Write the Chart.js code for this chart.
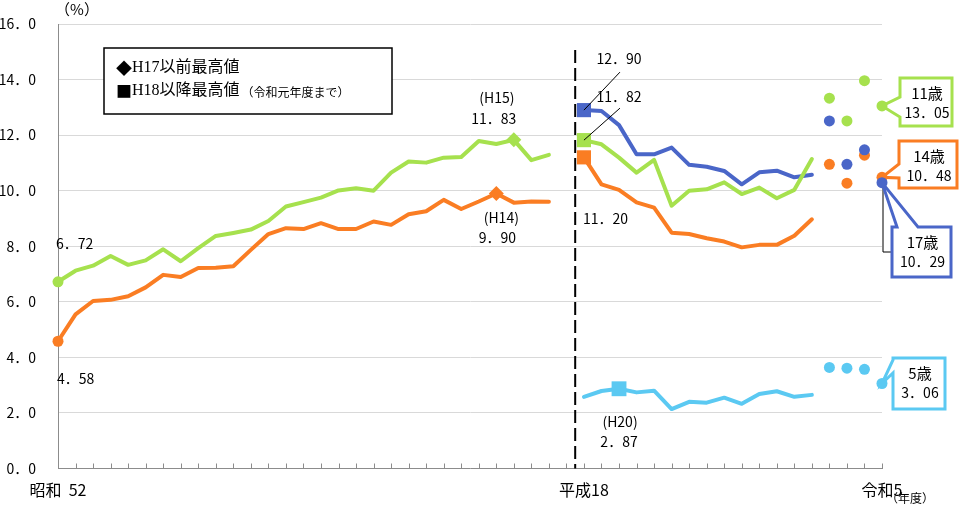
<!DOCTYPE html>
<html lang="ja">
<head>
<meta charset="utf-8">
<title>肥満傾向児の出現率の推移</title>
<script src="https://cdn.jsdelivr.net/npm/chart.js@4.4.1/dist/chart.umd.min.js"></script>
<style>
  html, body { margin: 0; padding: 0; background: #fff; }
  #box { width: 960px; height: 506px; }
</style>
</head>
<body>
<div id="box"><canvas id="grafico" width="960" height="506"></canvas></div>
<script>
// categorie (anni scolastici), lo spazio vuoto e' il salto tra H17 e H18
const categorie = ['S52','S53','S54','S55','S56','S57','S58','S59','S60','S61','S62','S63',
  'H1','H2','H3','H4','H5','H6','H7','H8','H9','H10','H11','H12','H13','H14','H15','H16','H17',
  '',
  'H18','H19','H20','H21','H22','H23','H24','H25','H26','H27','H28','H29','H30',
  'R1','R2','R3','R4','R5'];

// etichette mostrate sotto l'asse x
const etichetteAsse = { 'S52': '昭和  52', 'H18': '平成18', 'R5': '令和5' };

// 11歳 e 14歳, S52 - H17
const eta11Prima = [6.72, 7.12, 7.30, 7.65, 7.33, 7.49, 7.89, 7.46, 7.93, 8.37, 8.48, 8.60, 8.91, 9.43, 9.59,
  9.75, 10.01, 10.09, 10.00, 10.65, 11.05, 11.01, 11.19, 11.21, 11.79, 11.68, 11.83, 11.10, 11.29];
const eta14Prima = [4.58, 5.55, 6.03, 6.07, 6.20, 6.52, 6.97, 6.89, 7.22, 7.23, 7.28, 7.87, 8.44, 8.65, 8.62,
  8.83, 8.62, 8.62, 8.89, 8.77, 9.15, 9.26, 9.67, 9.34, 9.61, 9.90, 9.57, 9.61, 9.60];

// H18 - R1
const eta11Dopo = [11.82, 11.67, 11.19, 10.65, 11.11, 9.46, 10.00, 10.05, 10.30, 9.88, 10.11, 9.73, 10.03, 11.14];
const eta14Dopo = [11.20, 10.23, 10.03, 9.58, 9.39, 8.49, 8.44, 8.29, 8.17, 7.96, 8.05, 8.05, 8.38, 8.97];
const eta17Dopo = [12.90, 12.87, 12.36, 11.31, 11.31, 11.55, 10.93, 10.86, 10.71, 10.23, 10.66, 10.72, 10.48, 10.57];
const eta5Dopo  = [2.58, 2.79, 2.87, 2.74, 2.80, 2.14, 2.40, 2.37, 2.55, 2.33, 2.68, 2.78, 2.58, 2.65];

// R2 - R5 (solo punti)
const eta11Recenti = [13.33, 12.51, 13.96, 13.05];
const eta14Recenti = [10.95, 10.27, 11.28, 10.48];
const eta17Recenti = [12.51, 10.95, 11.47, 10.29];
const eta5Recenti  = [3.64, 3.61, 3.57, 3.06];

const colori = { eta11: '#A6E14E', eta14: '#FA7D23', eta17: '#4A66C8', eta5: '#5BC9F2' };
const FONT = '"Noto Sans CJK JP", sans-serif';
const SERIF = '"Liberation Serif", "Noto Sans CJK JP", serif';

// marcatori speciali: [categoria, stile, raggio]
const marcatori = {
  eta11: [['S52', 'circle', 5.5], ['H15', 'rectRot', 7.5], ['H18', 'rect', 10]],
  eta14: [['S52', 'circle', 5.5], ['H14', 'rectRot', 7.5], ['H18', 'rect', 10]],
  eta17: [['H18', 'rect', 10]],
  eta5:  [['H20', 'rect', 10.5]]
};

const iSalto = categorie.indexOf('');
const iR2 = categorie.indexOf('R2');

function fmt(v) { return v.toFixed(2).replace('.', '．'); }

function serieLinea(prima, dopo) {
  const p = prima || Array(iSalto).fill(null);
  return [...p, null, ...dopo, ...Array(categorie.length - iR2).fill(null)];
}

function serieRecenti(recenti) {
  return [...Array(iR2).fill(null), ...recenti];
}

function datasetLinea(chiave, prima, dopo) {
  const raggi = categorie.map(() => 0);
  const stili = categorie.map(() => 'circle');
  marcatori[chiave].forEach(([cat, stile, r]) => {
    const i = categorie.indexOf(cat);
    raggi[i] = r;
    stili[i] = stile;
  });
  return {
    data: serieLinea(prima, dopo),
    borderColor: colori[chiave],
    backgroundColor: colori[chiave],
    borderWidth: 4,
    borderJoinStyle: 'round',
    borderCapStyle: 'round',
    pointRadius: raggi,
    pointStyle: stili,
    pointBorderWidth: 0,
    tension: 0,
    spanGaps: false,
    clip: false
  };
}

function datasetPunti(chiave, recenti) {
  return {
    data: serieRecenti(recenti),
    showLine: false,
    borderColor: colori[chiave],
    backgroundColor: colori[chiave],
    pointRadius: 5.5,
    pointBorderWidth: 0,
    clip: false
  };
}

// fumetti a destra (solo posizione del riquadro)
const fumetti = [
  { chiave: 'eta11', nome: '11歳', valori: eta11Recenti, box: [900, 78, 952, 126], lato: 'left', base: [97, 117], guida: 'dritta' },
  { chiave: 'eta14', nome: '14歳', valori: eta14Recenti, box: [899, 141, 957, 188], lato: 'left', base: [164, 178] },
  { chiave: 'eta17', nome: '17歳', valori: eta17Recenti, box: [892, 227, 951, 277], lato: 'top', base: [897, 918], guida: 'gomito' },
  { chiave: 'eta5',  nome: '5歳',  valori: eta5Recenti,  box: [893, 358, 945, 409], lato: 'left', base: [360, 373] }
];

function testo(ctx, s, x, y, align, size, family) {
  ctx.save();
  ctx.fillStyle = '#000';
  ctx.font = size + 'px ' + (family || FONT);
  ctx.textAlign = align;
  ctx.textBaseline = 'middle';
  ctx.fillText(s, x, y);
  const w = ctx.measureText(s).width;
  ctx.restore();
  return w;
}

function linea(ctx, pts) {
  ctx.save();
  ctx.strokeStyle = '#000';
  ctx.lineWidth = 1;
  ctx.beginPath();
  ctx.moveTo(pts[0][0], pts[0][1]);
  for (let i = 1; i < pts.length; i++) ctx.lineTo(pts[i][0], pts[i][1]);
  ctx.stroke();
  ctx.restore();
}

const annotazioni = {
  id: 'annotazioni',
  beforeDatasetsDraw(chart) {
    const ctx = chart.ctx, xs = chart.scales.x, ys = chart.scales.y, area = chart.chartArea;

    // tacche dell'asse x verso l'interno
    ctx.save();
    ctx.strokeStyle = '#8c8c8c';
    ctx.lineWidth = 1;
    xs.ticks.forEach((t, i) => {
      const x = Math.round(xs.getPixelForTick(i)) + 0.5;
      ctx.beginPath();
      ctx.moveTo(x, area.bottom - 5);
      ctx.lineTo(x, area.bottom);
      ctx.stroke();
    });
    ctx.restore();

    // linea tratteggiata tra H17 e H18
    const xs0 = xs.getPixelForValue(iSalto + 0.5);
    ctx.save();
    ctx.strokeStyle = '#000';
    ctx.lineWidth = 2;
    ctx.setLineDash([13, 5]);
    ctx.beginPath();
    ctx.moveTo(xs0, area.top + 26);
    ctx.lineTo(xs0, area.bottom);
    ctx.stroke();
    ctx.restore();

    // fumetti
    fumetti.forEach(f => {
      const ultimo = f.valori[f.valori.length - 1];
      const tx = xs.getPixelForValue(categorie.length - 1);
      const ty = ys.getPixelForValue(ultimo);
      const [x0, y0, x1, y1] = f.box;

      if (f.guida === 'dritta') linea(ctx, [[tx, ty], [x0, ty - 4]]);
      if (f.guida === 'gomito') linea(ctx, [[tx + 1, ty], [tx + 1, y0 + 25], [x0, y0 + 25]]);

      ctx.save();
      ctx.beginPath();
      if (f.lato === 'left') {
        ctx.moveTo(x0, y0);
        ctx.lineTo(x1, y0);
        ctx.lineTo(x1, y1);
        ctx.lineTo(x0, y1);
        ctx.lineTo(x0, f.base[1]);
        ctx.lineTo(tx, ty);
        ctx.lineTo(x0, f.base[0]);
      } else {
        ctx.moveTo(x0, y0);
        ctx.lineTo(f.base[0], y0);
        ctx.lineTo(tx, ty);
        ctx.lineTo(f.base[1], y0);
        ctx.lineTo(x1, y0);
        ctx.lineTo(x1, y1);
        ctx.lineTo(x0, y1);
      }
      ctx.closePath();
      ctx.fillStyle = '#fff';
      ctx.fill();
      ctx.lineWidth = 3;
      ctx.lineJoin = 'miter';
      ctx.strokeStyle = colori[f.chiave];
      ctx.stroke();
      ctx.restore();

      const cx = (x0 + x1) / 2 + 1;
      testo(ctx, f.nome, cx, y0 + 15, 'center', 15);
      testo(ctx, fmt(ultimo), cx, y0 + 35, 'center', 14);
    });
  },
  afterDatasetsDraw(chart) {
    const ctx = chart.ctx, xs = chart.scales.x, ys = chart.scales.y, area = chart.chartArea;
    const punto = (cat, v) => ({ x: xs.getPixelForValue(categorie.indexOf(cat)), y: ys.getPixelForValue(v) });

    // valori iniziali
    let p = punto('S52', eta11Prima[0]);
    testo(ctx, fmt(eta11Prima[0]), p.x - 2, p.y - 38, 'left', 14);
    p = punto('S52', eta14Prima[0]);
    testo(ctx, fmt(eta14Prima[0]), p.x - 1, p.y + 37, 'left', 14);

    // massimi fino a H17
    const m11 = eta11Prima[categorie.indexOf('H15')];
    p = punto('H15', m11);
    testo(ctx, '(H15)', p.x - 17, p.y - 42, 'center', 14);
    testo(ctx, fmt(m11), p.x - 20, p.y - 21, 'center', 14);
    const m14 = eta14Prima[categorie.indexOf('H14')];
    p = punto('H14', m14);
    testo(ctx, '(H14)', p.x + 5, p.y + 24, 'center', 14);
    testo(ctx, fmt(m14), p.x + 1, p.y + 44, 'center', 14);

    // massimi da H18
    p = punto('H18', eta17Dopo[0]);
    linea(ctx, [[p.x, p.y], [p.x + 36, p.y - 38]]);
    testo(ctx, fmt(eta17Dopo[0]), p.x + 35, p.y - 51, 'center', 14);
    p = punto('H18', eta11Dopo[0]);
    linea(ctx, [[p.x, p.y], [p.x + 36, p.y - 32]]);
    testo(ctx, fmt(eta11Dopo[0]), p.x + 35, p.y - 43, 'center', 14);
    p = punto('H18', eta14Dopo[0]);
    testo(ctx, fmt(eta14Dopo[0]), p.x - 1, p.y + 61, 'left', 14);
    const m5 = eta5Dopo[categorie.indexOf('H20') - categorie.indexOf('H18')];
    p = punto('H20', m5);
    testo(ctx, '(H20)', p.x + 1, p.y + 33, 'center', 14);
    testo(ctx, fmt(m5), p.x, p.y + 53, 'center', 14);

    // riquadro legenda
    ctx.save();
    ctx.strokeStyle = '#000';
    ctx.lineWidth = 1.5;
    ctx.fillStyle = '#fff';
    ctx.fillRect(104, 48, 288, 66);
    ctx.strokeRect(104, 48, 288, 66);
    ctx.restore();
    let w = testo(ctx, '◆', 116, 68, 'left', 16);
    testo(ctx, 'H17以前最高値', 116 + w, 68, 'left', 16, SERIF);
    w = testo(ctx, '■', 116, 91, 'left', 16);
    w += testo(ctx, 'H18以降最高値', 116 + w, 91, 'left', 16, SERIF);
    testo(ctx, '（令和元年度まで）', 118 + w, 92, 'left', 12);

    // unita' e anno
    testo(ctx, '（%）', area.left + 19, 9, 'center', 15);
    testo(ctx, '（年度）', area.right + 28, 498, 'center', 12);
  }
};

new Chart(document.getElementById('grafico').getContext('2d'), {
  type: 'line',
  data: {
    labels: categorie,
    datasets: [
      datasetPunti('eta17', eta17Recenti),
      datasetPunti('eta11', eta11Recenti),
      datasetPunti('eta14', eta14Recenti),
      datasetPunti('eta5', eta5Recenti),
      datasetLinea('eta11', eta11Prima, eta11Dopo),
      datasetLinea('eta17', null, eta17Dopo),
      datasetLinea('eta14', eta14Prima, eta14Dopo),
      datasetLinea('eta5', null, eta5Dopo)
    ]
  },
  options: {
    responsive: false,
    animation: false,
    devicePixelRatio: 1,
    layout: { padding: { top: 24, right: 78, left: 0, bottom: 0 } },
    plugins: { legend: { display: false }, tooltip: { enabled: false } },
    scales: {
      x: {
        type: 'category',
        offset: false,
        grid: { display: true, drawOnChartArea: false, drawTicks: false },
        border: { color: '#8c8c8c', width: 1 },
        ticks: {
          autoSkip: false,
          maxRotation: 0,
          padding: 12,
          color: '#000',
          font: { family: FONT, size: 16 },
          callback: (v, i) => etichetteAsse[categorie[i]] || ''
        },
        afterFit: s => { s.height = 37.5; }
      },
      y: {
        min: 0,
        max: 16,
        ticks: {
          stepSize: 2,
          padding: 22,
          color: '#000',
          font: { family: FONT, size: 14 },
          callback: v => v.toFixed(1).replace('.', '．')
        },
        grid: { color: '#d9d9d9', drawTicks: false },
        border: { color: '#8c8c8c' },
        // la padding delle etichette non deve spostare l'area del grafico
        afterFit: s => { s.width = 58; s.paddingTop = 0; s.paddingBottom = 0; }
      }
    }
  },
  plugins: [annotazioni]
});
</script>
</body>
</html>
